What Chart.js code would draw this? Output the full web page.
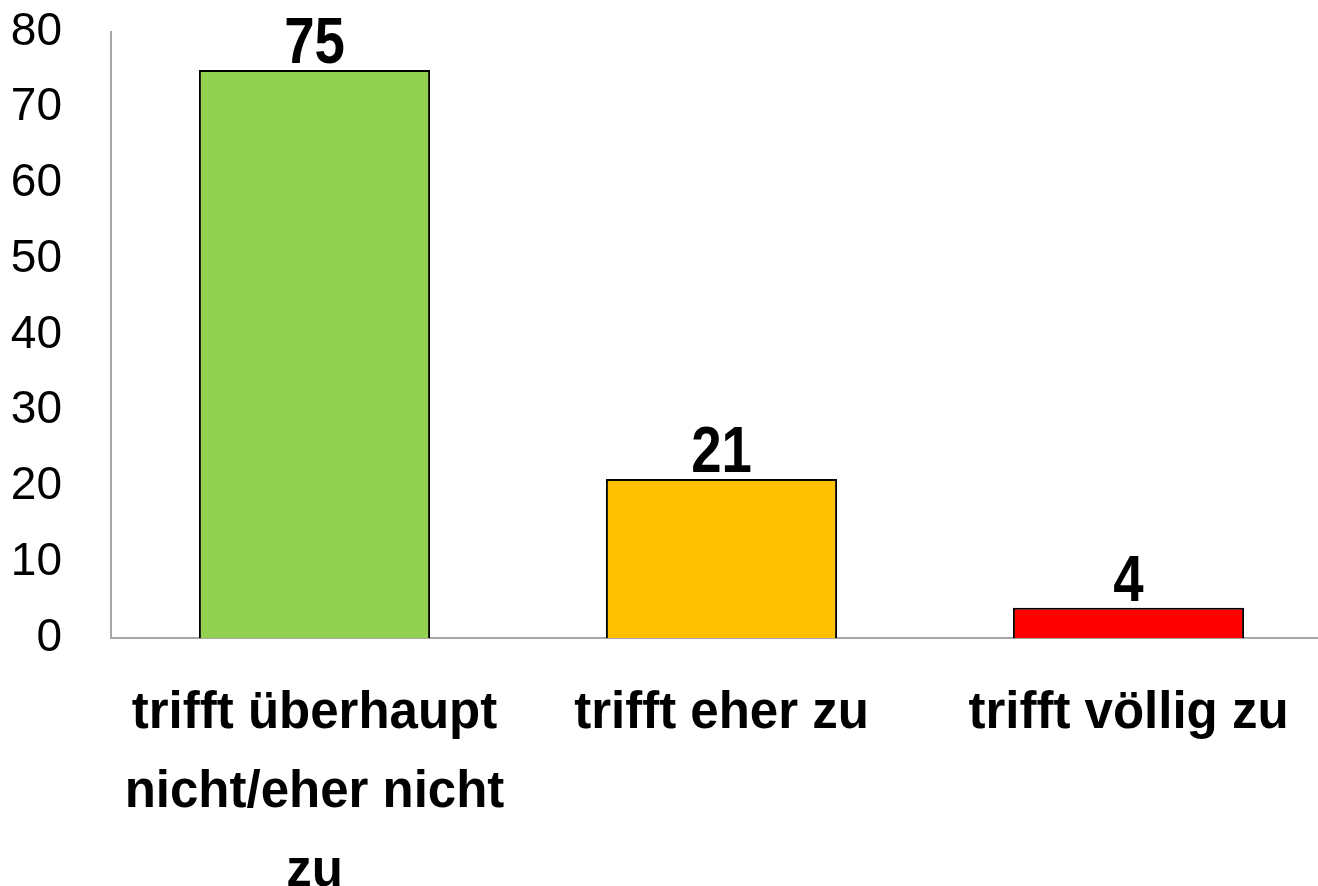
<!DOCTYPE html>
<html lang="de">
<head>
    <meta charset="UTF-8">
    <title>Zustimmung</title>
    <script src="https://cdn.jsdelivr.net/npm/chart.js@4.4.0/dist/chart.umd.min.js"></script>
    <style>
        html, body { margin: 0; padding: 0; background: #fff; overflow: hidden; }
        #wrap { width: 1332px; height: 886px; position: relative; }
    </style>
</head>
<body>
    <div id="wrap">
        <canvas id="chart"></canvas>
    </div>

    <script>
        // data
        var categories = [['trifft überhaupt', 'nicht/eher nicht', 'zu'], 'trifft eher zu', 'trifft völlig zu'];
        var values = [75, 21, 4];
        var barColors = ['#92D050', '#FFC000', '#FF0000'];
        var yTicks = [0, 10, 20, 30, 40, 50, 60, 70, 80];

        var sans = "'Liberation Sans', Arial, sans-serif";

        // value labels above the bars (squeezed a bit, the original uses a narrow face)
        var valueLabels = {
            id: 'valueLabels',
            afterDatasetsDraw: function (chart) {
                var ctx = chart.ctx;
                var meta = chart.getDatasetMeta(0);
                ctx.save();
                ctx.font = 'bold 65px ' + sans;
                ctx.fillStyle = '#000';
                ctx.textAlign = 'center';
                ctx.textBaseline = 'alphabetic';
                meta.data.forEach(function (bar, i) {
                    ctx.save();
                    ctx.translate(bar.x, bar.y - 7);
                    ctx.scale(0.84, 1);
                    ctx.fillText(values[i], 0, 0);
                    ctx.restore();
                });
                ctx.restore();
            }
        };

        var ctx = document.getElementById('chart').getContext('2d');
        new Chart(ctx, {
            type: 'bar',
            data: {
                labels: categories,
                datasets: [{
                    data: values,
                    backgroundColor: barColors,
                    borderColor: '#000',
                    borderWidth: 2,
                    barPercentage: 1,
                    categoryPercentage: 0.568
                }]
            },
            options: {
                responsive: true,
                maintainAspectRatio: false,
                animation: false,
                layout: { padding: { top: 32, left: 0, right: 0, bottom: 0 } },
                plugins: {
                    legend: { display: false },
                    tooltip: { enabled: false }
                },
                scales: {
                    x: {
                        grid: { display: false, drawTicks: false },
                        border: { color: '#A6A6A6', width: 2 },
                        ticks: {
                            color: '#000',
                            font: { family: sans, size: 51, weight: 'bold', lineHeight: 1.55 },
                            padding: 36,
                            maxRotation: 0,
                            autoSkip: false
                        },
                        afterFit: function (scale) {
                            scale.height = 248;
                            scale.paddingLeft = 0;
                            scale.paddingRight = 0;
                        }
                    },
                    y: {
                        min: 0,
                        max: 80,
                        afterBuildTicks: function (scale) {
                            scale.ticks = yTicks.map(function (v) { return { value: v }; });
                        },
                        grid: { display: false, drawTicks: false },
                        border: { color: '#A6A6A6', width: 2 },
                        ticks: {
                            color: '#000',
                            font: { family: sans, size: 46 },
                            padding: 49
                        },
                        afterFit: function (scale) {
                            scale.width = 111;
                            scale.paddingTop = 0;
                            scale.paddingBottom = 0;
                        }
                    }
                }
            },
            plugins: [valueLabels]
        });
    </script>
</body>
</html>
